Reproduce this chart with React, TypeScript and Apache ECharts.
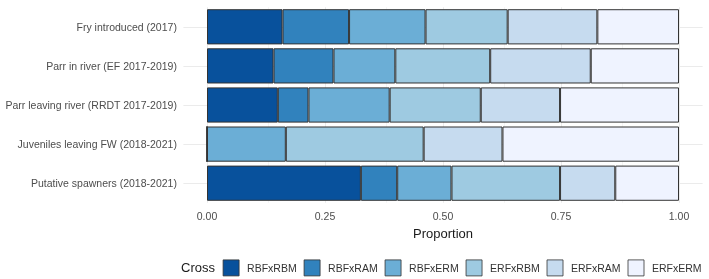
import React, { useEffect, useRef } from "react";
import * as echarts from "echarts";

const categories = [
  "Fry introduced (2017)",
  "Parr in river (EF 2017-2019)",
  "Parr leaving river (RRDT 2017-2019)",
  "Juveniles leaving FW (2018-2021)",
  "Putative spawners (2018-2021)",
];

const crosses = ["RBFxRBM", "RBFxRAM", "RBFxERM", "ERFxRBM", "ERFxRAM", "ERFxERM"];

// proportions per cross, in category order
const RBFxRBM = [0.16, 0.141, 0.15, 0, 0.326];
const RBFxRAM = [0.141, 0.127, 0.065, 0, 0.077];
const RBFxERM = [0.162, 0.131, 0.172, 0.167, 0.115];
const ERFxRBM = [0.174, 0.201, 0.193, 0.292, 0.23];
const ERFxRAM = [0.19, 0.213, 0.168, 0.167, 0.117];
const ERFxERM = [0.173, 0.187, 0.252, 0.374, 0.135];

const seriesValues = [RBFxRBM, RBFxRAM, RBFxERM, ERFxRBM, ERFxRAM, ERFxERM];

const colors = ["#08519C", "#3182BD", "#6BAED6", "#9ECAE1", "#C6DBEF", "#EFF3FF"];

const xTicks = [0, 0.25, 0.5, 0.75, 1];
const xMinorTicks = [0.125, 0.375, 0.625, 0.875];

export default function App() {
  const ref = useRef<HTMLDivElement>(null);

  useEffect(() => {
    if (!ref.current) return;
    const chart = echarts.init(ref.current, undefined, { renderer: "svg" });
    const gridColor = "#EBEBEB";
    const gridLines = [
      ...xTicks.map((v) => ({ xAxis: v, lineStyle: { color: gridColor, width: 1, type: "solid" } })),
      ...xMinorTicks.map((v) => ({ xAxis: v, lineStyle: { color: gridColor, width: 0.5, type: "solid" } })),
      ...categories.map((c) => ({ yAxis: c, lineStyle: { color: gridColor, width: 1, type: "solid" } })),
    ];
    const series: any[] = crosses.map((name, i) => ({
      name,
      type: "bar",
      stack: "total",
      barCategoryGap: "10%",
      z: 2,
      itemStyle: { color: colors[i], borderColor: "#333333", borderWidth: 1 },
      data: seriesValues[i],
      ...(i === 0
        ? {
            markLine: {
              silent: true,
              symbol: "none",
              z: 1,
              label: { show: false },
              emphasis: { disabled: true },
              data: gridLines,
            },
          }
        : {}),
    }));

    chart.setOption({
      animation: false,
      grid: { left: 183.4, right: 6.4, top: 7.25, height: 195.5, containLabel: false },
      xAxis: {
        type: "value",
        min: -0.05,
        max: 1.05,
        axisLine: { show: false },
        axisTick: { show: false },
        splitLine: { show: false },
        axisLabel: {
          customValues: xTicks,
          formatter: (v: number) => v.toFixed(2),
          color: "#4D4D4D",
          fontSize: 10.5,
          fontFamily: "Liberation Sans, Arial, sans-serif",
          margin: 8,
        },
        name: "Proportion",
        nameLocation: "middle",
        nameGap: 22,
        nameTextStyle: {
          color: "#1A1A1A",
          fontSize: 13,
          fontFamily: "Liberation Sans, Arial, sans-serif",
        },
      },
      yAxis: {
        type: "category",
        data: categories,
        inverse: true,
        axisLine: { show: false },
        axisTick: { show: false },
        splitLine: { show: false },
        axisLabel: {
          color: "#4D4D4D",
          fontSize: 10.5,
          fontFamily: "Liberation Sans, Arial, sans-serif",
          margin: 6.5,
        },
      },
      legend: {
        left: 222.7,
        top: 259.5,
        width: 486,
        padding: 0,
        icon: "rect",
        itemWidth: 16,
        itemHeight: 16,
        itemGap: 7,
        selectedMode: false,
        data: crosses,
        itemStyle: { borderColor: "#333333", borderWidth: 0.8 },
        textStyle: {
          color: "#333333",
          fontSize: 10.5,
          fontFamily: "Liberation Sans, Arial, sans-serif",
          padding: [0, 0, 0, 3],
        },
      },
      graphic: [
        {
          type: "text",
          left: 181,
          top: 261,
          style: {
            text: "Cross",
            fill: "#1A1A1A",
            font: "13px Liberation Sans, Arial, sans-serif",
          },
        },
      ],
      series,
    });
    return () => chart.dispose();
  }, []);

  return (
    <div
      ref={ref}
      style={{ position: "fixed", left: 0, top: 0, width: 709, height: 279 }}
    />
  );
}
